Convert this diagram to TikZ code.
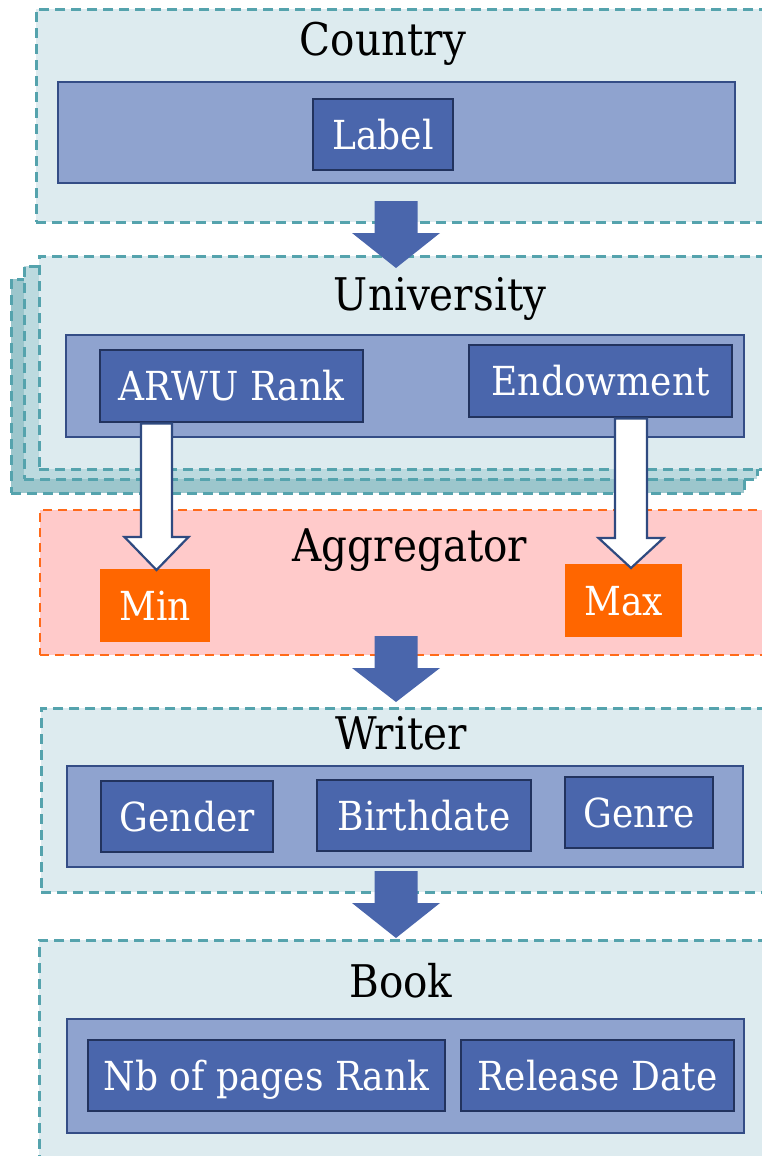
\documentclass[tikz,border=0pt]{standalone}
\usepackage{fontspec}
\setmainfont[FakeStretch=0.9]{DejaVu Serif}
\usetikzlibrary{calc}

\definecolor{outerfill}{HTML}{DDEBEF}
\definecolor{midfill}{HTML}{BCDADF}
\definecolor{backfill}{HTML}{9CC6CC}
\definecolor{dashteal}{HTML}{55A3AD}
\definecolor{panelfill}{HTML}{8FA3CF}
\definecolor{paneledge}{HTML}{344D86}
\definecolor{attrfill}{HTML}{4A66AC}
\definecolor{attredge}{HTML}{22335E}
\definecolor{aggfill}{HTML}{FFCACA}
\definecolor{aggedge}{HTML}{FF6A1A}
\definecolor{opfill}{HTML}{FF6600}
\definecolor{arrowblue}{HTML}{4A66AC}
\definecolor{arrowedge}{HTML}{2F4A80}

\tikzset{
  frame/.style={draw=dashteal, line width=2.6pt, dash pattern=on 10pt off 6pt, fill=outerfill},
  aggframe/.style={draw=aggedge, line width=2pt, dash pattern=on 9pt off 6pt, fill=aggfill},
  panel/.style={draw=paneledge, line width=2.4pt, fill=panelfill},
  attr/.style={draw=attredge, line width=2.4pt, fill=attrfill, text=white,
    font=\fontsize{40}{48}\selectfont, inner sep=0pt, text height=29pt, text depth=0pt},
  opbox/.style={fill=opfill, text=white, font=\fontsize{40}{48}\selectfont,
    inner sep=0pt, text height=29pt, text depth=0pt},
  title/.style={text=black, font=\fontsize{45}{54}\selectfont, inner sep=0pt,
    text height=33pt, text depth=0pt},
  flowarrow/.style={fill=arrowblue},
  pickarrow/.style={fill=white, draw=arrowedge, line width=2.2pt, line join=miter},
}

% rectangle node from its corners: name, x1, y1, x2, y2, style, text
\newcommand{\cornerbox}[7]{%
  \node[#6, anchor=north west, minimum width={(#4-#2)*1pt},
        minimum height={(#5-#3)*1pt}] (#1) at (#2,#3) {#7};}

% block arrow from start (its height) to tip (its x and height):
% start, tip, half shaft, half head, head length, style
\newcommand{\blockarrow}[6]{%
  \path[#6] let \p1=(#1), \p2=(#2) in
    (\x2-#3,\y1) -- (\x2+#3,\y1) -- (\x2+#3,\y2+#5) -- (\x2+#4,\y2+#5)
    -- (\x2,\y2) -- (\x2-#4,\y2+#5) -- (\x2-#3,\y2+#5) -- cycle;}

\begin{document}
\begin{tikzpicture}[x=1pt, y=-1pt]
\useasboundingbox (0,0) rectangle (762,1156);
\clip (0,0) rectangle (762,1156);

% Country
\cornerbox{country}{35}{8}{775}{221}{frame}{}
\node[title] (countryT) at (383,39) {Country};
\cornerbox{countryP}{57}{81}{734}{182}{panel}{}
\cornerbox{label}{312}{98}{452}{169}{attr}{Label}

% University (stacked frames)
\cornerbox{uniBack}{10}{278}{743}{492}{frame, fill=backfill}{}
\cornerbox{uniMid}{23}{265}{756}{478}{frame, fill=midfill}{}
\cornerbox{uni}{38}{255}{775}{468}{frame}{}
\node[title] (uniT) at (440,293.5) {University};
\cornerbox{uniP}{65}{334}{743}{436}{panel}{}
\cornerbox{arwu}{99}{349}{362}{421}{attr}{ARWU Rank}
\cornerbox{endow}{468}{344}{731}{416}{attr}{Endowment}

% Aggregator
\cornerbox{agg}{39}{509}{775}{654}{aggframe}{}
\node[title] (aggT) at (410,544.5) {Aggregator};
\cornerbox{min}{100}{569}{210}{642}{opbox}{Min}
\cornerbox{max}{565}{564}{682}{637}{opbox}{Max}

% Writer
\cornerbox{writer}{40}{707}{775}{891}{frame}{}
\node[title] (writerT) at (401,733) {Writer};
\cornerbox{writerP}{66}{765}{742}{866}{panel}{}
\cornerbox{gender}{100}{780}{272}{851}{attr}{Gender}
\cornerbox{birth}{316}{779}{530}{850}{attr}{Birthdate}
\cornerbox{genre}{564}{776}{712}{847}{attr}{Genre}

% Book
\cornerbox{book}{38}{939}{775}{1170}{frame}{}
\node[title] (bookT) at (401,981) {Book};
\cornerbox{bookP}{66}{1018}{743}{1132}{panel}{}
\cornerbox{pages}{87}{1039}{444}{1110}{attr}{Nb of pages Rank}
\cornerbox{release}{460}{1039}{733}{1110}{attr}{Release Date}

% arrow end points
\coordinate (countryOut) at (396,201);
\coordinate (uniIn) at (396,268);
\coordinate (aggOut) at (396,636);
\coordinate (writerIn) at (396,702);
\coordinate (writerOut) at (396,871);
\coordinate (bookIn) at (396,938);
\coordinate (minIn) at (156.5,570);
\coordinate (maxIn) at (631,568);

% attribute picks into the aggregator
\blockarrow{arwu.south}{minIn}{15.5pt}{32pt}{33pt}{pickarrow}
\blockarrow{endow.south}{maxIn}{16pt}{32.5pt}{30pt}{pickarrow}

% flow between levels
\blockarrow{countryOut}{uniIn}{21.5pt}{44pt}{35pt}{flowarrow}
\blockarrow{aggOut}{writerIn}{21.5pt}{44pt}{34pt}{flowarrow}
\blockarrow{writerOut}{bookIn}{21.5pt}{44pt}{35pt}{flowarrow}
\end{tikzpicture}
\end{document}
